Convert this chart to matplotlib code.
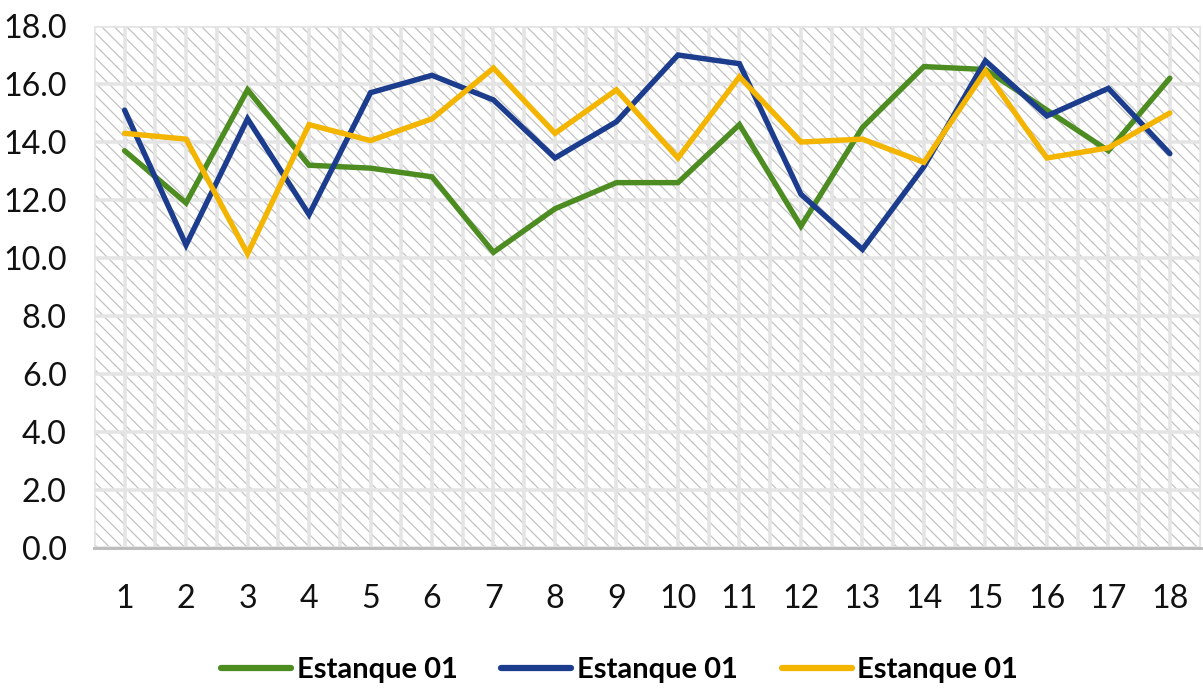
import numpy as np
import matplotlib.pyplot as plt

# data
puntos = list(range(1, 19))
estanque_verde = [13.7, 11.9, 15.8, 13.2, 13.1, 12.8, 10.2, 11.7, 12.6,
                  12.6, 14.6, 11.1, 14.5, 16.6, 16.5, 15.1, 13.7, 16.2]
estanque_azul = [15.1, 10.45, 14.8, 11.5, 15.7, 16.3, 15.45, 13.45, 14.7,
                 17.0, 16.7, 12.2, 10.3, 13.15, 16.8, 14.9, 15.85, 13.6]
estanque_amarillo = [14.3, 14.1, 10.15, 14.6, 14.05, 14.8, 16.55, 14.3, 15.8,
                     13.45, 16.25, 14.0, 14.1, 13.3, 16.45, 13.45, 13.8, 15.0]
etiquetas = ["Estanque 01", "Estanque 01", "Estanque 01"]
colores = ["#4C8C21", "#1C3C8E", "#F4B500"]
y_ticks = np.arange(0, 18.1, 2)

plt.rcParams['font.family'] = ['Lato', 'DejaVu Sans']
plt.rcParams['hatch.linewidth'] = 0.6

fig = plt.figure(figsize=(8.02, 4.62), dpi=150)
ax = fig.add_axes([0.078, 0.209, 0.920, 0.7535])

# hatched background like the excel pattern fill
ax.patch.set_facecolor('white')
ax.patch.set_hatch('\\\\\\\\')
ax.patch.set_edgecolor('#c2c2c2')

series = [estanque_verde, estanque_azul, estanque_amarillo]
for vals, lab, col in zip(series, etiquetas, colores):
    ax.plot(puntos, vals, color=col, lw=2.6, label=lab, zorder=3,
            solid_joinstyle='miter', solid_capstyle='round')

ax.set_xlim(0.5, 18.5)
ax.set_ylim(0, 18)
ax.set_xticks(puntos)
ax.set_xticks(np.arange(0.5, 18.6, 1), minor=True)
ax.set_yticks(y_ticks)
ax.set_yticklabels([f"{v:.1f}" for v in y_ticks])

ax.grid(True, axis='x', which='both', color='#e4e4e4', lw=1.7)
ax.grid(True, axis='y', which='major', color='#e4e4e4', lw=1.7)
for l in ax.get_xgridlines() + ax.get_ygridlines() + \
        ax.xaxis.get_minorticklines():
    l.set_zorder(1)

ax.tick_params(axis='both', which='both', length=0, labelsize=15.5,
               labelcolor='#111111')
ax.tick_params(axis='x', pad=17)
ax.tick_params(axis='y', pad=13)

for s in ['top', 'right', 'left']:
    ax.spines[s].set_visible(False)
ax.spines['bottom'].set_color('#bcbcbc')
ax.spines['bottom'].set_linewidth(1.4)
ax.spines['bottom'].set_zorder(2)

leg = fig.legend(loc='center', bbox_to_anchor=(0.515, 0.033), ncol=3,
                 frameon=False, handlelength=2.4, handletextpad=0.2,
                 columnspacing=1.5, prop={'weight': 'bold', 'size': 14})
for h in leg.get_lines():
    h.set_linewidth(3)

fig.savefig('out.png', dpi=150)
